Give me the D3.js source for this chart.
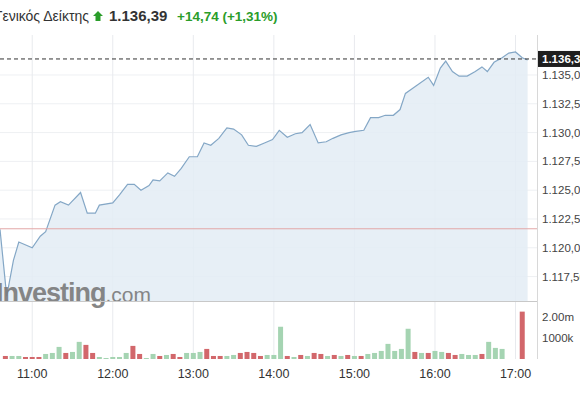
<!DOCTYPE html>
<html><head><meta charset="utf-8">
<script src="https://cdn.jsdelivr.net/npm/d3@7"></script>
<style>body{margin:0;background:#fff;font-family:Arial,"Liberation Sans",sans-serif}svg{display:block}</style>
</head><body><svg id="c" width="580" height="403"></svg>
<script>
const priceTimes=["10:36","10:41","10:46","10:50","11:00","11:06","11:10","11:17","11:21","11:27","11:36","11:41","11:47","11:50","12:00","12:05","12:11","12:16","12:21","12:27","12:30","12:35","12:41","12:46","12:51","12:57","13:03","13:08","13:13","13:19","13:25","13:30","13:36","13:41","13:47","13:53","13:59","14:04","14:10","14:16","14:21","14:27","14:33","14:39","14:44","14:50","14:56","15:01","15:07","15:12","15:18","15:23","15:29","15:34","15:38","15:44","15:49","15:55","15:59","16:04","16:08","16:13","16:18","16:24","16:30","16:35","16:39","16:44","16:50","16:55","17:00","17:05","17:09"];
const prices=[1121.6,1115.8,1118.9,1120.5,1120.0,1121.0,1121.4,1123.7,1124.0,1123.7,1124.8,1123.0,1123.0,1123.7,1123.9,1124.6,1125.5,1125.5,1125.0,1125.4,1125.9,1125.8,1126.5,1126.2,1126.9,1127.9,1127.9,1129.1,1128.9,1129.5,1130.4,1130.3,1129.8,1128.9,1128.8,1129.1,1129.4,1130.2,1129.6,1129.9,1130.0,1130.7,1129.1,1129.2,1129.5,1129.8,1130.0,1130.1,1130.2,1131.3,1131.3,1131.5,1131.5,1132.0,1133.4,1133.9,1134.3,1134.8,1134.1,1135.6,1136.2,1135.3,1134.9,1134.9,1135.3,1135.7,1135.3,1136.1,1136.5,1136.9,1137.0,1136.5,1136.3];
const volStart="10:40";
const volumes=[144,144,144,96,96,96,240,288,576,288,336,816,672,288,96,48,96,96,288,624,240,48,240,144,192,240,96,288,288,336,480,144,144,144,192,288,336,288,144,192,192,1536,144,96,192,144,288,240,144,192,144,192,144,144,240,288,384,720,384,480,1440,336,288,288,384,336,288,192,240,192,192,240,816,528,480,0,0,2256];
const volUp=[0,1,1,0,0,0,1,1,1,0,1,1,0,0,1,1,1,1,1,0,0,1,1,0,1,0,0,1,1,1,0,0,0,1,1,0,0,0,0,1,1,1,0,1,0,1,0,0,1,0,1,0,1,0,1,1,1,1,1,1,1,0,1,0,1,1,0,0,1,1,1,0,1,1,1,1,1,0];
const priceTicks=[1117.5,1120,1122.5,1125,1127.5,1130,1132.5,1135];
const timeTicks=["11:00","12:00","13:00","14:00","15:00","16:00","17:00"];
const volTicks=[1000,2000];
const last=1136.39, change=14.74, pct=1.31, prevClose=last-change;

const svg=d3.select("#c");
const pt=d3.timeParse("%H:%M");
const W=537;
const x=d3.scaleTime().domain([pt("10:36"),pt("17:16")]).range([0,W]);
const y=d3.scaleLinear().domain([1115.38,1138.47]).range([301,35]);
const yv=d3.scaleLinear().domain([0,1000]).range([359,338]);
const fmt=v=>d3.format(",.2f")(v).replace(/,/g,"#").replace(".",",").replace(/#/g,".");

svg.append("g").selectAll("line").data(priceTicks).join("line")
 .attr("x1",0).attr("x2",W).attr("y1",d=>y(d)).attr("y2",d=>y(d)).attr("stroke","#eef0f3");
svg.append("g").selectAll("line").data(timeTicks).join("line")
 .attr("x1",d=>x(pt(d))).attr("x2",d=>x(pt(d))).attr("y1",35).attr("y2",359).attr("stroke","#e8eaee");

const pts=priceTimes.map((t,i)=>[pt(t),prices[i]]);
svg.append("path").datum(pts).attr("fill","#e3ecf5").attr("opacity",0.85)
 .attr("d",d3.area().x(d=>x(d[0])).y0(301).y1(d=>y(d[1])));
svg.append("path").datum(pts).attr("fill","none").attr("stroke","#84a7c6").attr("stroke-width",1.2)
 .attr("d",d3.line().x(d=>x(d[0])).y(d=>y(d[1])));

const wm=svg.append("text").attr("x",-4).attr("y",302).attr("fill","#7a7a7a").attr("opacity",0.9);
wm.append("tspan").text("Investing").attr("font-size",27).attr("font-weight","bold").attr("letter-spacing",-1);
wm.append("tspan").text(".com").attr("font-size",21);

svg.append("line").attr("x1",0).attr("x2",W).attr("y1",y(prevClose)).attr("y2",y(prevClose)).attr("stroke","#e3a7a7");
svg.append("line").attr("x1",0).attr("x2",W).attr("y1",y(last)).attr("y2",y(last)).attr("stroke","#333").attr("stroke-dasharray","4,3");

svg.append("line").attr("x1",0).attr("x2",W).attr("y1",301.5).attr("y2",301.5).attr("stroke","#c8c8c8");
svg.append("line").attr("x1",W+0.5).attr("x2",W+0.5).attr("y1",35).attr("y2",359).attr("stroke","#d8d8d8");

const vt=d=>d3.timeMinute.offset(pt(volStart),5*d);
svg.append("g").selectAll("rect").data(volumes).join("rect")
 .attr("x",(d,i)=>x(vt(i))-2.5).attr("width",5)
 .attr("y",d=>yv(d)).attr("height",d=>359-yv(d))
 .attr("fill",(d,i)=>volUp[i]?"#a5d4b2":"#d2676b");

const ra=svg.append("g").attr("font-size",11.5).attr("fill","#444");
ra.selectAll("text.p").data(priceTicks).join("text").attr("x",W+5).attr("y",d=>y(d)+4).text(d=>fmt(d));
ra.selectAll("text.v").data(volTicks).join("text").attr("x",W+5).attr("y",d=>yv(d)+4).text(d=>d>=2000?"2.00m":d+"k");
svg.append("rect").attr("x",W+1).attr("y",y(last)-8).attr("width",50).attr("height",16).attr("fill","#1e1e1e");
svg.append("text").attr("x",W+5).attr("y",y(last)+4).attr("font-size",11.5).attr("fill","#fff").attr("font-weight","bold").text(fmt(last));

svg.append("g").selectAll("text").data(timeTicks).join("text")
 .attr("x",d=>x(pt(d))).attr("y",378).attr("text-anchor","middle").attr("font-size",12.5).attr("fill","#333").text(d=>d);

svg.append("text").attr("x",89).attr("y",21).attr("text-anchor","end").attr("font-size",14).attr("fill","#333").text("Γενικός Δείκτης");
svg.append("path").attr("d","M98,11 L103,16 L100.5,16 L100.5,21 L95.5,21 L95.5,16 L93,16 Z").attr("fill","#2a9d2a");
svg.append("text").attr("x",109).attr("y",21).attr("font-size",15).attr("font-weight","bold").attr("fill","#333").text(fmt(last));
svg.append("text").attr("x",177).attr("y",21).attr("font-size",13.5).attr("font-weight","bold").attr("fill","#2a9d2a")
 .text("+"+fmt(change)+" (+"+fmt(pct)+"%)");
</script></body></html>
